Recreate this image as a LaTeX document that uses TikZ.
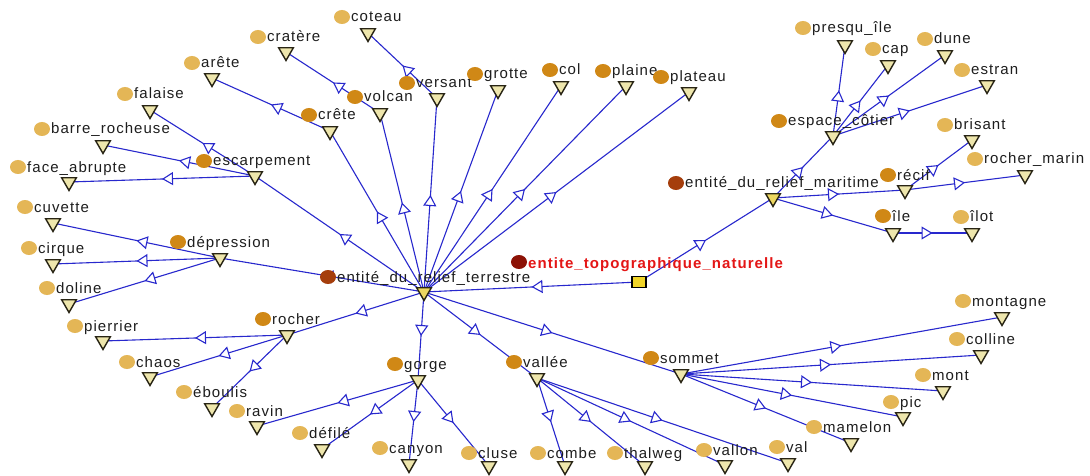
\documentclass[tikz,border=0pt]{standalone}
\usepackage{fontspec}
\setmainfont{Liberation Sans}
\newfontfamily\lblfont{Liberation Sans}[LetterSpace=7]
\usetikzlibrary{arrows.meta,decorations.markings,shapes.geometric}
\definecolor{edgeblue}{RGB}{40,40,205}
\definecolor{trifill}{RGB}{238,230,172}
\definecolor{trifillb}{RGB}{236,214,96}
\definecolor{triborder}{RGB}{40,36,20}
\definecolor{leafc}{RGB}{228,182,86}
\definecolor{midc}{RGB}{208,136,22}
\definecolor{brownc}{RGB}{165,62,12}
\definecolor{rootc}{RGB}{140,18,6}
\definecolor{rootlbl}{RGB}{228,22,22}
\definecolor{sqfill}{RGB}{240,212,40}
\definecolor{txtc}{RGB}{30,30,30}
\pgfdeclarelayer{bg}
\pgfsetlayers{bg,main}
\tikzset{
  tri/.style={regular polygon, regular polygon sides=3, shape border rotate=180,
    minimum size=17pt, inner sep=0pt, draw=triborder, fill=trifill, line width=1.4pt},
  dot/.style={ellipse, minimum width=16pt, minimum height=14pt, inner sep=0pt, draw=none},
  leaf/.style={dot, fill=leafc},
  mid/.style={dot, fill=midc},
  brn/.style={dot, fill=brownc},
  lbl/.style={anchor=base west, inner sep=0pt, text=txtc, font=\lblfont\fontsize{15}{18}\selectfont},
  relline/.style={edgeblue, line width=1.1pt, postaction={decorate},
    decoration={markings, mark=at position 0.5 with {\arrow{Triangle[length=11pt,width=13pt,fill=white,line width=1.1pt]}}}}
}
\newcommand{\cpt}[8][]{%
  \node[tri,#1] (#2) at (#3,#4-2) {};
  \node[#7] (#2-d) at (#5,#6) {};
  \node[lbl] (#2-l) at (#5+9,#6+5) {#8};
}
\newcommand{\edgeto}[2]{\draw[relline] (#1.center) -- (#2.center);}
\begin{document}
\begin{tikzpicture}[x=1pt,y=-1pt]
\useasboundingbox (0,0) rectangle (1090,476);
% root
\node[dot, fill=rootc] (root-d) at (519,262) {};
\node[anchor=base west, inner sep=0pt, text=rootlbl, font=\lblfont\bfseries\fontsize{15}{18}\selectfont] (root-l) at (528,268) {entite\_topographique\_naturelle};
\node[rectangle, minimum width=14pt, minimum height=11pt, inner sep=0pt, draw=black, fill=sqfill, line width=1.5pt] (root) at (639,282) {};
% second level
\cpt[fill=trifillb]{terr}{424}{294}{328}{277}{brn}{entité\_du\_relief\_terrestre}
\cpt[fill=trifillb]{mar}{773}{200}{676}{183}{brn}{entité\_du\_relief\_maritime}
% middle
\cpt{escarp}{255}{178}{204}{161}{mid}{escarpement}
\cpt{depr}{220}{260}{178}{242}{mid}{dépression}
\cpt{rocher}{287}{337}{263}{319}{mid}{rocher}
\cpt{gorge}{418}{382}{395}{364}{mid}{gorge}
\cpt{vallee}{537}{380}{514}{362}{mid}{vallée}
\cpt{sommet}{681}{376}{651}{358}{mid}{sommet}
\cpt{crete}{330}{133}{309}{115}{mid}{crête}
\cpt{volcan}{380}{115}{355}{97}{mid}{volcan}
\cpt{versant}{437}{100}{407}{83}{mid}{versant}
\cpt{grotte}{498}{92}{475}{74}{mid}{grotte}
\cpt{col}{561}{88}{550}{70}{mid}{col}
\cpt{plaine}{626}{88}{603}{71}{mid}{plaine}
\cpt{plateau}{689}{94}{661}{77}{mid}{plateau}
\cpt{espace}{833}{138}{779}{121}{mid}{espace\_côtier}
\cpt{recif}{905}{192}{888}{175}{mid}{récif}
\cpt{ile}{893}{235}{883}{216}{mid}{île}
% leaves
\cpt{falaise}{150}{112}{125}{94}{leaf}{falaise}
\cpt{barre}{103}{147}{42}{129}{leaf}{barre\_rocheuse}
\cpt{face}{69}{184}{18}{167}{leaf}{face\_abrupte}
\cpt{arete}{212}{80}{192}{63}{leaf}{arête}
\cpt{cratere}{286}{54}{258}{37}{leaf}{cratère}
\cpt{coteau}{368}{35}{342}{17}{leaf}{coteau}
\cpt{cuvette}{53}{225}{25}{207}{leaf}{cuvette}
\cpt{cirque}{53}{266}{29}{248}{leaf}{cirque}
\cpt{doline}{69}{306}{47}{288}{leaf}{doline}
\cpt{pierrier}{103}{343}{75}{326}{leaf}{pierrier}
\cpt{chaos}{150}{379}{127}{362}{leaf}{chaos}
\cpt{eboulis}{212}{410}{184}{392}{leaf}{éboulis}
\cpt{ravin}{257}{428}{237}{411}{leaf}{ravin}
\cpt{defile}{322}{451}{300}{433}{leaf}{défilé}
\cpt{canyon}{409}{466}{380}{448}{leaf}{canyon}
\cpt{cluse}{489}{468}{469}{453}{leaf}{cluse}
\cpt{combe}{565}{468}{538}{453}{leaf}{combe}
\cpt{thalweg}{645}{468}{615}{453}{leaf}{thalweg}
\cpt{vallon}{725}{467}{704}{450}{leaf}{vallon}
\cpt{val}{788}{465}{777}{447}{leaf}{val}
\cpt{mamelon}{851}{445}{814}{427}{leaf}{mamelon}
\cpt{pic}{903}{419}{891}{402}{leaf}{pic}
\cpt{mont}{943}{393}{923}{375}{leaf}{mont}
\cpt{colline}{981}{357}{957}{339}{leaf}{colline}
\cpt{montagne}{1002}{319}{963}{301}{leaf}{montagne}
\cpt{presqu}{845}{47}{803}{28}{leaf}{presqu\_île}
\cpt{cap}{888}{67}{873}{49}{leaf}{cap}
\cpt{dune}{945}{57}{925}{39}{leaf}{dune}
\cpt{estran}{987}{87}{962}{70}{leaf}{estran}
\cpt{brisant}{972}{142}{945}{125}{leaf}{brisant}
\cpt{rocmar}{1025}{177}{975}{159}{leaf}{rocher\_marin}
\cpt{ilot}{972}{235}{961}{217}{leaf}{îlot}
\begin{pgfonlayer}{bg}
\fill[white] (0,0) rectangle (1090,476);
\edgeto{root}{terr}\edgeto{root}{mar}
\edgeto{terr}{escarp}\edgeto{terr}{depr}\edgeto{terr}{rocher}\edgeto{terr}{gorge}
\edgeto{terr}{vallee}\edgeto{terr}{sommet}\edgeto{terr}{crete}\edgeto{terr}{volcan}
\edgeto{terr}{versant}\edgeto{terr}{grotte}\edgeto{terr}{col}\edgeto{terr}{plaine}\edgeto{terr}{plateau}
\edgeto{escarp}{falaise}\edgeto{escarp}{barre}\edgeto{escarp}{face}
\edgeto{crete}{arete}\edgeto{volcan}{cratere}\edgeto{versant}{coteau}
\edgeto{depr}{cuvette}\edgeto{depr}{cirque}\edgeto{depr}{doline}
\edgeto{rocher}{pierrier}\edgeto{rocher}{chaos}\edgeto{rocher}{eboulis}
\edgeto{gorge}{ravin}\edgeto{gorge}{defile}\edgeto{gorge}{canyon}\edgeto{gorge}{cluse}
\edgeto{vallee}{combe}\edgeto{vallee}{thalweg}\edgeto{vallee}{vallon}\edgeto{vallee}{val}
\edgeto{sommet}{montagne}\edgeto{sommet}{colline}\edgeto{sommet}{mont}\edgeto{sommet}{pic}\edgeto{sommet}{mamelon}
\edgeto{mar}{espace}\edgeto{mar}{recif}\edgeto{mar}{ile}
\edgeto{espace}{presqu}\edgeto{espace}{cap}\edgeto{espace}{dune}\edgeto{espace}{estran}
\edgeto{recif}{brisant}\edgeto{recif}{rocmar}
\edgeto{ile}{ilot}
\end{pgfonlayer}
\end{tikzpicture}
\end{document}
